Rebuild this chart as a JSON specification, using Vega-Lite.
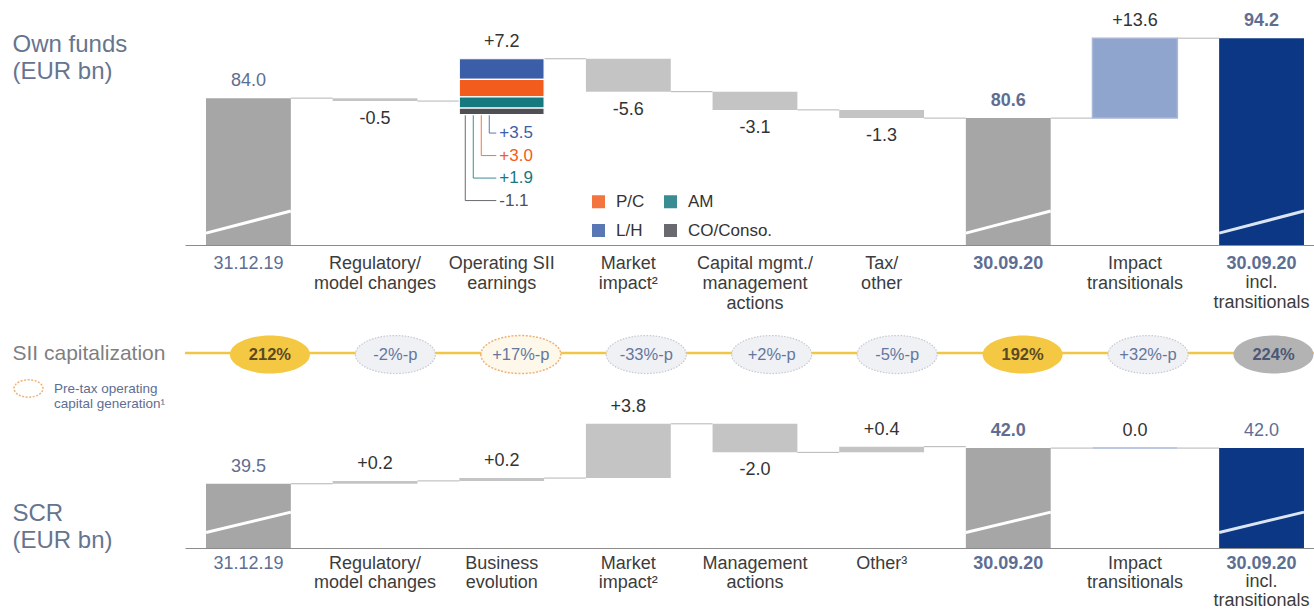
{
  "$schema": "https://vega.github.io/schema/vega-lite/v6.json",
  "background": "white",
  "padding": {"left": 12, "top": 10, "right": 0, "bottom": 0},
  "config": {"font": "Liberation Sans", "view": {"stroke": null}, "axis": {"grid": false}},
  "bounds": "flush",
  "spacing": 10,
  "resolve": {"scale": {"x": "independent", "y": "independent", "color": "independent", "fill": "independent", "stroke": "independent"}},
  "datasets": {
    "own": [
      {"i": 0, "cat": "31.12.19", "kind": "opening", "start": 0, "end": 84.0, "label": "84.0"},
      {"i": 1, "cat": "Regulatory/\nmodel changes", "kind": "delta", "start": 84.0, "end": 83.5, "label": "-0.5"},
      {"i": 2, "cat": "Operating SII\nearnings", "kind": "breakdown", "start": 83.5, "end": 90.7, "label": "+7.2"},
      {"i": 3, "cat": "Market\nimpact²", "kind": "delta", "start": 90.7, "end": 85.1, "label": "-5.6"},
      {"i": 4, "cat": "Capital mgmt./\nmanagement\nactions", "kind": "delta", "start": 85.1, "end": 82.0, "label": "-3.1"},
      {"i": 5, "cat": "Tax/\nother", "kind": "delta", "start": 82.0, "end": 80.6, "label": "-1.3"},
      {"i": 6, "cat": "30.09.20", "kind": "closing", "start": 0, "end": 80.6, "label": "80.6"},
      {"i": 7, "cat": "Impact\ntransitionals", "kind": "transitional", "start": 80.6, "end": 94.2, "label": "+13.6"},
      {"i": 8, "cat": "30.09.20\nincl.\ntransitionals", "kind": "closing_incl", "start": 0, "end": 94.2, "label": "94.2"}
    ],
    "ops": [
      {"cat": "Operating SII\nearnings", "seg": "L/H", "lo": 87.2, "hi": 90.7, "label": "+3.5", "order": 1},
      {"cat": "Operating SII\nearnings", "seg": "P/C", "lo": 84.2, "hi": 87.2, "label": "+3.0", "order": 2},
      {"cat": "Operating SII\nearnings", "seg": "AM", "lo": 82.3, "hi": 84.2, "label": "+1.9", "order": 3},
      {"cat": "Operating SII\nearnings", "seg": "CO/Conso.", "lo": 81.2, "hi": 82.3, "label": "-1.1", "order": 4}
    ],
    "sii": [
      {"cat": "31.12.19", "label": "212%", "kind": "level"},
      {"cat": "Regulatory/\nmodel changes", "label": "-2%-p", "kind": "change"},
      {"cat": "Operating SII\nearnings", "label": "+17%-p", "kind": "operating"},
      {"cat": "Market\nimpact²", "label": "-33%-p", "kind": "change"},
      {"cat": "Capital mgmt./\nmanagement\nactions", "label": "+2%-p", "kind": "change"},
      {"cat": "Tax/\nother", "label": "-5%-p", "kind": "change"},
      {"cat": "30.09.20", "label": "192%", "kind": "level"},
      {"cat": "Impact\ntransitionals", "label": "+32%-p", "kind": "change"},
      {"cat": "30.09.20\nincl.\ntransitionals", "label": "224%", "kind": "level_incl"}
    ],
    "scr": [
      {"i": 0, "cat": "31.12.19", "kind": "opening", "start": 0, "end": 39.5, "label": "39.5"},
      {"i": 1, "cat": "Regulatory/\nmodel changes", "kind": "delta", "start": 39.5, "end": 39.7, "label": "+0.2"},
      {"i": 2, "cat": "Business\nevolution", "kind": "delta", "start": 39.7, "end": 39.9, "label": "+0.2"},
      {"i": 3, "cat": "Market\nimpact²", "kind": "delta", "start": 39.9, "end": 43.7, "label": "+3.8"},
      {"i": 4, "cat": "Management\nactions", "kind": "delta", "start": 43.7, "end": 41.7, "label": "-2.0"},
      {"i": 5, "cat": "Other³", "kind": "delta", "start": 41.7, "end": 42.1, "label": "+0.4"},
      {"i": 6, "cat": "30.09.20", "kind": "closing", "start": 0, "end": 42.0, "label": "42.0"},
      {"i": 7, "cat": "Impact\ntransitionals", "kind": "transitional", "start": 42.0, "end": 42.0, "label": "0.0"},
      {"i": 8, "cat": "30.09.20\nincl.\ntransitionals", "kind": "closing_incl", "start": 0, "end": 42.0, "label": "42.0"}
    ]
  },
  "vconcat": [
    {
      "width": 1129,
      "height": 235,
      "layer": [
        {
          "data": {"name": "own"},
          "transform": [
            {"window": [{"op": "lead", "field": "cat", "as": "next"}], "sort": [{"field": "i"}]},
            {"filter": "isValid(datum.next)"}
          ],
          "mark": {"type": "rule", "color": "#b5b5b5", "strokeWidth": 1},
          "encoding": {
            "x": {
              "field": "cat", "type": "nominal", "bandPosition": 1,
              "scale": {"domain": ["31.12.19", "Regulatory/\nmodel changes", "Operating SII\nearnings", "Market\nimpact²", "Capital mgmt./\nmanagement\nactions", "Tax/\nother", "30.09.20", "Impact\ntransitionals", "30.09.20\nincl.\ntransitionals"], "paddingInner": 0.33, "paddingOuter": 0.1224, "align": 0.677},
              "axis": {
                "title": null, "labelExpr": "indexof(datum.value, 'incl.') >= 0 ? '30.09.20' : split(datum.value, '\\n')", "ticks": false, "labelPadding": 9,
                "labelFontSize": 18, "labelLineHeight": 20, "labelBaseline": "top", "labelAngle": 0, "labelLimit": 400,
                "labelColor": {"condition": {"test": "substring(datum.value,0,1) == '3'", "value": "#5e6e92"}, "value": "#3c3c3c"},
                "labelFontWeight": {"condition": {"test": "substring(datum.value,0,2) == '30'", "value": "bold"}, "value": "normal"},
                "domainColor": "#8c8c8c", "domainWidth": 1.2
              }
            },
            "x2": {"field": "next", "bandPosition": 0},
            "y": {
              "field": "end", "type": "quantitative",
              "scale": {"domain": [59, 99], "zero": false, "nice": false},
              "axis": {
                "title": ["Own funds", "(EUR bn)"], "domain": false, "ticks": false, "labels": false, "grid": false,
                "titleAngle": 0, "titleAlign": "left", "titleBaseline": "alphabetic", "titleX": -173, "titleY": 41,
                "titleFontSize": 24, "titleFontWeight": "normal", "titleColor": "#66758f", "titleLineHeight": 27
              }
            }
          }
        },
        {
          "data": {"name": "own"},
          "transform": [{"filter": "datum.kind != 'breakdown'"}],
          "mark": {"type": "bar", "clip": true, "strokeWidth": 1.5, "stroke": {"expr": "datum.kind == 'transitional' ? '#a9b5d9' : 'transparent'"}},
          "encoding": {
            "x": {"field": "cat", "type": "nominal"},
            "y": {"field": "start", "type": "quantitative"},
            "y2": {"field": "end"},
            "fill": {"field": "kind", "type": "nominal", "scale": {"domain": ["opening", "delta", "closing", "transitional", "closing_incl"], "range": ["#a6a6a6", "#c4c4c4", "#a6a6a6", "#8fa5cd", "#0c3784"]}, "legend": null}
          }
        },
        {
          "data": {"name": "ops"},
          "mark": {"type": "rule", "strokeWidth": 1, "opacity": 0.85, "xOffset": {"expr": "38 - 8*datum.order"}, "y2Offset": {"expr": "-4 + 22.5*datum.order"}},
          "encoding": {
            "x": {"field": "cat", "type": "nominal", "bandPosition": 0},
            "y": {"datum": 81.2},
            "y2": {"datum": 81.2},
            "color": {"field": "seg", "type": "nominal"}
          }
        },
        {
          "data": {"name": "ops"},
          "mark": {"type": "rule", "strokeWidth": 1, "opacity": 0.85, "xOffset": {"expr": "38 - 8*datum.order"}, "x2Offset": 37, "yOffset": {"expr": "-4 + 22.5*datum.order"}},
          "encoding": {
            "x": {"field": "cat", "type": "nominal", "bandPosition": 0},
            "x2": {"field": "cat", "bandPosition": 0},
            "y": {"datum": 81.2},
            "color": {"field": "seg", "type": "nominal"}
          }
        },
        {
          "data": {"name": "ops"},
          "mark": {"type": "bar", "stroke": "white", "strokeWidth": 1.2},
          "encoding": {
            "x": {"field": "cat", "type": "nominal"},
            "y": {"field": "lo", "type": "quantitative"},
            "y2": {"field": "hi"},
            "color": {
              "field": "seg", "type": "nominal",
              "scale": {"domain": ["P/C", "L/H", "AM", "CO/Conso."], "range": ["#f25c1c", "#3c5ea8", "#16797f", "#4f4f56"]},
              "legend": {
                "title": null, "orient": "none", "legendX": 405, "legendY": 183, "columns": 2,
                "symbolType": "square", "symbolSize": 169, "symbolStrokeWidth": 0,
                "labelFontSize": 17, "labelColor": "#333333", "labelOffset": 9, "rowPadding": 11, "columnPadding": 17
              }
            }
          }
        },
        {
          "data": {"name": "ops"},
          "mark": {"type": "text", "align": "left", "baseline": "middle", "fontSize": 17, "xOffset": 40, "yOffset": {"expr": "-4 + 22.5*datum.order"}},
          "encoding": {
            "x": {"field": "cat", "type": "nominal", "bandPosition": 0},
            "y": {"datum": 81.2},
            "text": {"field": "label"},
            "color": {"field": "seg", "type": "nominal"}
          }
        },
        {
          "data": {"name": "own"},
          "transform": [{"filter": "datum.kind == 'opening' || datum.kind == 'closing' || datum.kind == 'closing_incl'"}],
          "mark": {"type": "point", "shape": "M -1 0.26 L 1 -0.26", "size": 7200, "filled": false, "opacity": 1, "strokeWidth": 3, "stroke": {"expr": "datum.kind == 'closing_incl' ? '#dbe5f3' : '#ffffff'"}},
          "encoding": {
            "x": {"field": "cat", "type": "nominal"},
            "y": {"datum": 62.9}
          }
        },
        {
          "data": {"name": "own"},
          "mark": {
            "type": "text", "baseline": "middle", "fontSize": 18,
            "dy": {"expr": "datum.end < datum.start ? 18 : -17"},
            "fill": {"expr": "indexof(['opening','closing','closing_incl'], datum.kind) >= 0 ? '#5e6e92' : '#333333'"},
            "fontWeight": {"expr": "datum.kind == 'closing' || datum.kind == 'closing_incl' ? 'bold' : 'normal'"}
          },
          "encoding": {
            "x": {"field": "cat", "type": "nominal"},
            "y": {"field": "end", "type": "quantitative"},
            "text": {"field": "label"}
          }
        },
        {
          "data": {"name": "own"},
          "transform": [{"filter": "datum.kind == 'closing_incl'"}, {"calculate": "slice(split(datum.cat, '\\n'), 1)", "as": "rest"}],
          "mark": {"type": "text", "baseline": "top", "fontSize": 18, "lineHeight": 20, "color": "#3c3c3c", "dy": 29},
          "encoding": {
            "x": {"field": "cat", "type": "nominal"},
            "y": {"datum": 59},
            "text": {"field": "rest", "type": "nominal"}
          }
        }
      ]
    },
    {
      "width": 1129,
      "height": 126,
      "layer": [
        {
          "data": {"values": [{}]},
          "mark": {"type": "rule", "color": "#f1c646", "strokeWidth": 2.5},
          "encoding": {
            "y": {
              "datum": 0.222, "type": "quantitative",
              "scale": {"domain": [0, 1], "zero": false, "nice": false},
              "axis": {
                "title": "SII capitalization", "domain": false, "ticks": false, "labels": false, "grid": false,
                "titleAngle": 0, "titleAlign": "left", "titleBaseline": "alphabetic", "titleX": -173, "titleY": 104,
                "titleFontSize": 21, "titleFontWeight": "normal", "titleColor": "#7f7f7f"
              }
            }
          }
        },
        {
          "data": {"name": "sii"},
          "mark": {
            "type": "point", "shape": "M -1 0 A 1 0.475 0 1 1 1 0 A 1 0.475 0 1 1 -1 0 Z", "size": 6400,
            "filled": true, "opacity": 1, "stroke": "#c5c9d2", "strokeWidth": 1.2, "strokeDash": [1.5, 1.5],
            "strokeOpacity": {"expr": "datum.kind == 'change' ? 1 : 0"}
          },
          "encoding": {
            "x": {
              "field": "cat", "type": "nominal",
              "scale": {"domain": ["31.12.19", "Regulatory/\nmodel changes", "Operating SII\nearnings", "Market\nimpact²", "Capital mgmt./\nmanagement\nactions", "Tax/\nother", "30.09.20", "Impact\ntransitionals", "30.09.20\nincl.\ntransitionals"], "paddingInner": 0.33, "paddingOuter": 0.1224, "align": 0.677},
              "axis": null
            },
            "y": {"datum": 0.21},
            "fill": {"field": "kind", "type": "nominal", "scale": {"domain": ["level", "change", "operating", "level_incl"], "range": ["#f5c843", "#f0f1f4", "#fdf8ea", "#b3b3b3"]}, "legend": null}
          }
        },
        {
          "data": {"name": "sii"},
          "transform": [{"filter": "datum.kind == 'operating'"}],
          "mark": {"type": "point", "shape": "M -1 0 A 1 0.475 0 1 1 1 0 A 1 0.475 0 1 1 -1 0 Z", "size": 6400, "filled": false, "opacity": 1, "strokeWidth": 1.5, "strokeDash": [2, 1.5]},
          "encoding": {
            "x": {"field": "cat", "type": "nominal"},
            "y": {"datum": 0.21},
            "stroke": {
              "field": "kind", "type": "nominal",
              "scale": {"domain": ["operating"], "range": ["#eeb27a"]},
              "legend": {
                "title": null, "orient": "none", "legendX": -172, "legendY": 118,
                "symbolType": "M -1 0 A 1 0.6 0 1 1 1 0 A 1 0.6 0 1 1 -1 0 Z", "symbolSize": 841, "symbolStrokeWidth": 1.5, "symbolDash": [2, 1.5], "symbolFillColor": "transparent",
                "labelExpr": "['Pre-tax operating', 'capital generation¹']", "labelFontSize": 13.5, "labelLineHeight": 13,
                "labelColor": "#5e6e92", "labelOffset": 10, "labelBaseline": "middle"
              }
            }
          }
        },
        {
          "data": {"name": "sii"},
          "mark": {
            "type": "text", "baseline": "middle", "fontSize": 16.5,
            "fill": {"expr": "datum.kind == 'level' ? '#5a4b22' : datum.kind == 'level_incl' ? '#4c5877' : '#6577a0'"},
            "fontWeight": {"expr": "datum.kind == 'level' || datum.kind == 'level_incl' ? 'bold' : 'normal'"}
          },
          "encoding": {
            "x": {"field": "cat", "type": "nominal"},
            "y": {"datum": 0.21},
            "text": {"field": "label"}
          }
        }
      ]
    },
    {
      "width": 1129,
      "height": 157,
      "layer": [
        {
          "data": {"name": "scr"},
          "transform": [
            {"window": [{"op": "lead", "field": "cat", "as": "next"}], "sort": [{"field": "i"}]},
            {"filter": "isValid(datum.next)"}
          ],
          "mark": {"type": "rule", "color": "#b5b5b5", "strokeWidth": 1},
          "encoding": {
            "x": {
              "field": "cat", "type": "nominal", "bandPosition": 1,
              "scale": {"domain": ["31.12.19", "Regulatory/\nmodel changes", "Business\nevolution", "Market\nimpact²", "Management\nactions", "Other³", "30.09.20", "Impact\ntransitionals", "30.09.20\nincl.\ntransitionals"], "paddingInner": 0.33, "paddingOuter": 0.1224, "align": 0.677},
              "axis": {
                "title": null, "labelExpr": "indexof(datum.value, 'incl.') >= 0 ? '30.09.20' : split(datum.value, '\\n')", "ticks": false, "labelPadding": 6,
                "labelFontSize": 18, "labelLineHeight": 19, "labelBaseline": "top", "labelAngle": 0, "labelLimit": 400,
                "labelColor": {"condition": {"test": "substring(datum.value,0,1) == '3'", "value": "#5e6e92"}, "value": "#3c3c3c"},
                "labelFontWeight": {"condition": {"test": "substring(datum.value,0,2) == '30'", "value": "bold"}, "value": "normal"},
                "domainColor": "#8c8c8c", "domainWidth": 1.2
              }
            },
            "x2": {"field": "next", "bandPosition": 0},
            "y": {
              "field": "end", "type": "quantitative",
              "scale": {"domain": [35, 46], "zero": false, "nice": false},
              "axis": {
                "title": ["SCR", "(EUR bn)"], "domain": false, "ticks": false, "labels": false, "grid": false,
                "titleAngle": 0, "titleAlign": "left", "titleBaseline": "alphabetic", "titleX": -173, "titleY": 129,
                "titleFontSize": 24, "titleFontWeight": "normal", "titleColor": "#66758f", "titleLineHeight": 27
              }
            }
          }
        },
        {
          "data": {"name": "scr"},
          "mark": {"type": "bar", "clip": true, "strokeWidth": 1.5, "stroke": {"expr": "datum.kind == 'transitional' ? '#a9b5d9' : 'transparent'"}},
          "encoding": {
            "x": {"field": "cat", "type": "nominal"},
            "y": {"field": "start", "type": "quantitative"},
            "y2": {"field": "end"},
            "fill": {"field": "kind", "type": "nominal", "scale": {"domain": ["opening", "delta", "closing", "transitional", "closing_incl"], "range": ["#a6a6a6", "#c4c4c4", "#a6a6a6", "#8fa5cd", "#0c3784"]}, "legend": null}
          }
        },
        {
          "data": {"name": "scr"},
          "transform": [{"filter": "datum.kind == 'opening' || datum.kind == 'closing' || datum.kind == 'closing_incl'"}],
          "mark": {"type": "point", "shape": "M -1 0.24 L 1 -0.24", "size": 7200, "filled": false, "opacity": 1, "strokeWidth": 3, "stroke": {"expr": "datum.kind == 'closing_incl' ? '#dbe5f3' : '#ffffff'"}},
          "encoding": {
            "x": {"field": "cat", "type": "nominal"},
            "y": {"datum": 36.8}
          }
        },
        {
          "data": {"name": "scr"},
          "mark": {
            "type": "text", "baseline": "middle", "fontSize": 18,
            "dy": {"expr": "datum.end < datum.start ? 18 : -17"},
            "fill": {"expr": "indexof(['opening','closing','closing_incl'], datum.kind) >= 0 ? '#5e6e92' : '#333333'"},
            "fontWeight": {"expr": "datum.kind == 'closing' ? 'bold' : 'normal'"}
          },
          "encoding": {
            "x": {"field": "cat", "type": "nominal"},
            "y": {"field": "end", "type": "quantitative"},
            "text": {"field": "label"}
          }
        },
        {
          "data": {"name": "scr"},
          "transform": [{"filter": "datum.kind == 'closing_incl'"}, {"calculate": "slice(split(datum.cat, '\\n'), 1)", "as": "rest"}],
          "mark": {"type": "text", "baseline": "top", "fontSize": 18, "lineHeight": 19, "color": "#3c3c3c", "dy": 25},
          "encoding": {
            "x": {"field": "cat", "type": "nominal"},
            "y": {"datum": 35},
            "text": {"field": "rest", "type": "nominal"}
          }
        }
      ]
    }
  ]
}
